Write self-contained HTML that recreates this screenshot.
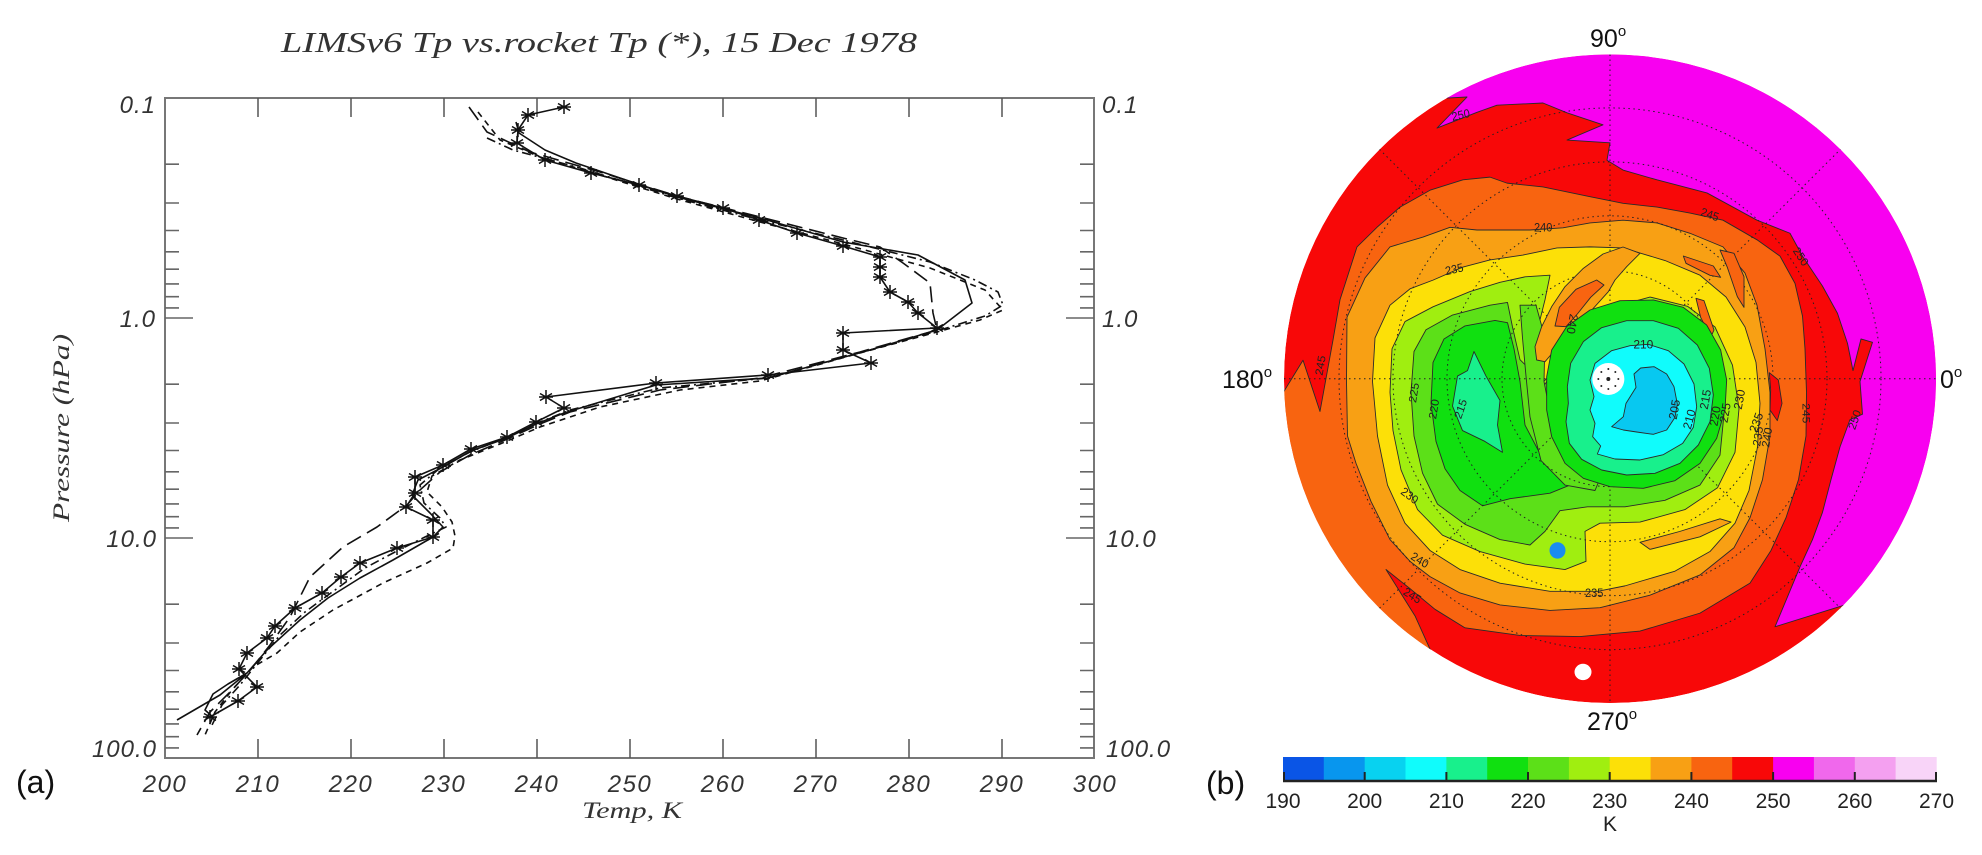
<!DOCTYPE html>
<html><head><meta charset="utf-8"><style>html,body{margin:0;padding:0;background:#fff;}svg{display:block}</style></head>
<body>
<svg width="1982" height="855" viewBox="0 0 1982 855" xmlns="http://www.w3.org/2000/svg">
<defs>
<g id="a" stroke="#111" stroke-width="1.5" fill="none"><path d="M0,-7V7M-6,-3.5L6,3.5M-6,3.5L6,-3.5M-7,0H7"/></g>
</defs>
<rect width="1982" height="855" fill="#fff"/>

<!-- ========== LEFT PANEL ========== -->
<text x="281" y="52" font-family="Liberation Serif, serif" font-style="italic" font-size="29" fill="#333" textLength="636" lengthAdjust="spacingAndGlyphs">LIMSv6 Tp vs.rocket Tp (*), 15 Dec 1978</text>

<rect x="165" y="98" width="929" height="660" fill="none" stroke="#777" stroke-width="2"/>
<path stroke="#555" stroke-width="1.5" fill="none" d="M258,98v19M351,98v19M444,98v19M537,98v19M630,98v19M723,98v19M816,98v19M909,98v19M1002,98v19
M258,758v-19M351,758v-19M444,758v-19M537,758v-19M630,758v-19M723,758v-19M816,758v-19M909,758v-19M1002,758v-19"/>
<path stroke="#666" stroke-width="1.6" fill="none" d="
M165,164.2h14M165,203h14M165,230.5h14M165,251.8h14M165,269.2h14M165,283.9h14M165,296.7h14M165,307.9h14M165,318h28
M165,384.2h14M165,423h14M165,450.5h14M165,471.8h14M165,489.2h14M165,503.9h14M165,516.7h14M165,527.9h14M165,538h28
M165,604.2h14M165,643h14M165,670.5h14M165,691.8h14M165,709.2h14M165,723.9h14M165,736.7h14M165,747.9h14
M1094,164.2h-14M1094,203h-14M1094,230.5h-14M1094,251.8h-14M1094,269.2h-14M1094,283.9h-14M1094,296.7h-14M1094,307.9h-14M1094,318h-28
M1094,384.2h-14M1094,423h-14M1094,450.5h-14M1094,471.8h-14M1094,489.2h-14M1094,503.9h-14M1094,516.7h-14M1094,527.9h-14M1094,538h-28
M1094,604.2h-14M1094,643h-14M1094,670.5h-14M1094,691.8h-14M1094,709.2h-14M1094,723.9h-14M1094,736.7h-14M1094,747.9h-14"/>

<g font-family="Liberation Sans, sans-serif" font-style="italic" font-size="24" fill="#333" letter-spacing="1">
<text x="156" y="113" text-anchor="end">0.1</text>
<text x="156" y="327" text-anchor="end">1.0</text>
<text x="157" y="547" text-anchor="end">10.0</text>
<text x="157" y="757" text-anchor="end">100.0</text>
<text x="1102" y="113">0.1</text>
<text x="1102" y="327">1.0</text>
<text x="1106" y="547">10.0</text>
<text x="1106" y="757">100.0</text>
</g>
<g font-family="Liberation Sans, sans-serif" font-style="italic" font-size="24" fill="#333" letter-spacing="1.5" text-anchor="middle">
<text x="165" y="792">200</text><text x="258" y="792">210</text><text x="351" y="792">220</text><text x="444" y="792">230</text><text x="537" y="792">240</text><text x="630" y="792">250</text><text x="723" y="792">260</text><text x="816" y="792">270</text><text x="909" y="792">280</text><text x="1002" y="792">290</text><text x="1095" y="792">300</text>
</g>
<text x="632" y="818" text-anchor="middle" font-family="Liberation Serif, serif" font-style="italic" font-size="23" fill="#333" textLength="100" lengthAdjust="spacingAndGlyphs">Temp, K</text>
<text transform="translate(69,428) rotate(-90)" text-anchor="middle" font-family="Liberation Serif, serif" font-style="italic" font-size="23" fill="#333" textLength="188" lengthAdjust="spacingAndGlyphs">Pressure (hPa)</text>
<text x="16" y="793" font-family="Liberation Sans, sans-serif" font-size="32" fill="#111">(a)</text>

<g fill="none" stroke="#111" stroke-width="1.6" stroke-linejoin="round">
<polyline points="516,122 519,133 545,150 576,163 620,178 677,197 760,218 843,242 918,255 965,280 972,303 937,330 870,350 768,378 656,385 564,413 536,424 507,438 471,451 443,467 418,480 412,495 430,513 443,527 433,537 393,560 360,578 328,598 300,620 267,650 247,673 220,695 177,720"/>
<polyline points="247,673 228,684 213,694 205,710 214,718"/>
<polyline stroke-dasharray="6,5" points="478,112 500,140 540,157 600,175 677,199 760,222 843,244 930,268 985,290 1003,310 980,320 937,332 860,353 760,381 680,390 600,407 540,427 500,444 460,460 432,476 427,492 442,507 452,522 455,536 453,548 427,563 383,583 333,610 300,632 277,653 253,667 232,690 215,712 205,735"/>
<polyline stroke-dasharray="9,4,2,4" points="487,138 513,150 580,168 677,198 760,220 843,240 930,262 975,280 998,292 1003,305 985,316 937,331 870,350 768,378 660,388 570,410 540,422 505,438 470,452 440,468 420,485 424,503 440,518 446,527 425,537 395,552 365,568 335,590 305,612 280,635 260,660 240,685 222,705 212,725"/>
<polyline stroke-dasharray="16,7" points="469,107 487,132 530,152 600,172 677,196 760,217 843,238 880,247 903,263 930,283 933,313 937,330 860,352 760,378 660,390 570,412 540,424 505,440 470,455 440,472 420,490 407,505 377,527 343,547 310,577 290,617 270,645 252,668 232,690 210,712 197,735"/>
<polyline points="564,107 528,115 518,130 517,143 545,160 591,173 639,185 677,196 723,208 759,220 797,233 843,246 880,257 880,267 880,277 890,292 908,302 918,313 937,328 843,333 843,350 871,363 768,375 656,383 546,397 564,408 536,422 507,437 471,449 443,465 415,477 415,493 406,507 433,520 433,537 397,548 360,563 341,577 322,593 295,608 275,626 267,638 247,653 239,669 257,687 238,701 210,717"/>
</g>
<g>
<use href="#a" x="564" y="107"/><use href="#a" x="528" y="115"/><use href="#a" x="518" y="130"/><use href="#a" x="517" y="143"/><use href="#a" x="545" y="160"/><use href="#a" x="591" y="173"/><use href="#a" x="639" y="185"/><use href="#a" x="677" y="196"/><use href="#a" x="723" y="208"/><use href="#a" x="759" y="220"/><use href="#a" x="797" y="233"/><use href="#a" x="843" y="246"/><use href="#a" x="880" y="257"/><use href="#a" x="880" y="267"/><use href="#a" x="880" y="277"/><use href="#a" x="890" y="292"/><use href="#a" x="908" y="302"/><use href="#a" x="918" y="313"/><use href="#a" x="937" y="328"/><use href="#a" x="843" y="333"/><use href="#a" x="843" y="350"/><use href="#a" x="871" y="363"/><use href="#a" x="768" y="375"/><use href="#a" x="656" y="383"/><use href="#a" x="546" y="397"/><use href="#a" x="564" y="408"/><use href="#a" x="536" y="422"/><use href="#a" x="507" y="437"/><use href="#a" x="471" y="449"/><use href="#a" x="443" y="465"/><use href="#a" x="415" y="477"/><use href="#a" x="415" y="493"/><use href="#a" x="406" y="507"/><use href="#a" x="433" y="520"/><use href="#a" x="433" y="537"/><use href="#a" x="397" y="548"/><use href="#a" x="360" y="563"/><use href="#a" x="341" y="577"/><use href="#a" x="322" y="593"/><use href="#a" x="295" y="608"/><use href="#a" x="275" y="626"/><use href="#a" x="267" y="638"/><use href="#a" x="247" y="653"/><use href="#a" x="239" y="669"/><use href="#a" x="257" y="687"/><use href="#a" x="238" y="701"/><use href="#a" x="210" y="717"/>
</g>

<!-- ========== RIGHT PANEL ========== -->
<clipPath id="cc"><ellipse cx="820" cy="695" rx="652" ry="595"/></clipPath>
<g transform="translate(1200,0) scale(0.5,0.545)">
<g clip-path="url(#cc)" stroke="#2a2a2a" stroke-width="0.9" stroke-linejoin="round">
<ellipse cx="820" cy="695" rx="652" ry="595" fill="#f80808" stroke="none"/>
<polygon vector-effect="non-scaling-stroke" fill="#f800f0" points="470,80 1600,80 1600,1110 1290,1110 1150,1150 1175,1095 1200,1040 1225,990 1245,940 1262,880 1280,820 1300,770 1325,760 1320,700 1345,628 1322,622 1306,680 1295,630 1275,575 1245,525 1205,470 1180,428 1114,404 1014,354 914,330 846,312 814,294 820,262 734,257 806,229 734,207 686,189 594,193 554,206 474,235 534,178 494,180"/>
<polygon vector-effect="non-scaling-stroke" fill="#f86410" points="100,720 168,718 206,661 240,755 266,624 280,550 314,453 354,417 400,380 460,349 526,330 580,325 614,336 686,343 780,361 846,373 914,380 980,391 1046,404 1114,440 1160,470 1190,520 1205,580 1210,640 1213,720 1212,800 1197,880 1172,950 1142,1010 1100,1070 1000,1125 880,1158 760,1168 640,1166 530,1152 470,1118 420,1080 372,1045 430,1130 462,1195 300,1250 100,1000"/>
<polygon vector-effect="non-scaling-stroke" fill="#f8a014" points="295,800 293,700 294,582 330,510 380,453 446,435 500,417 554,422 660,422 726,418 780,409 846,404 914,409 980,428 1046,453 1090,501 1114,560 1130,640 1140,720 1140,800 1125,880 1100,950 1068,1005 1000,1055 900,1092 800,1115 700,1120 600,1110 520,1088 460,1058 420,1030 380,990 342,920 312,850"/>
<polygon vector-effect="non-scaling-stroke" fill="#fce008" points="345,700 350,620 380,560 420,530 466,514 526,490 580,477 646,468 714,455 780,453 846,455 930,478 1000,505 1052,545 1090,600 1112,665 1120,740 1115,820 1098,900 1070,960 1020,1012 950,1048 850,1075 795,1085 700,1085 600,1070 520,1045 460,1010 410,960 375,890 355,800"/>
<polygon vector-effect="non-scaling-stroke" fill="#f8a014" points="880,995 960,975 1040,952 1062,958 1000,985 900,1008"/>
<polygon vector-effect="non-scaling-stroke" fill="#a0ee10" points="466,563 540,535 600,518 650,508 700,505 690,550 675,605 658,660 682,705 720,670 760,610 820,565 900,545 975,562 1030,600 1065,670 1078,750 1070,830 1035,895 970,935 880,958 800,960 770,975 772,1030 730,1045 650,1035 560,1012 485,982 435,935 402,862 386,790 380,720 384,640 410,590"/>
<polygon vector-effect="non-scaling-stroke" fill="#5ce018" points="422,720 428,645 452,605 505,578 580,560 615,555 625,600 640,660 690,705 730,650 780,600 830,572 900,556 965,575 1010,615 1038,680 1048,760 1040,835 1000,890 930,918 850,930 775,930 720,937 690,975 660,1000 600,990 530,962 475,925 445,868 428,800"/>
<polygon vector-effect="non-scaling-stroke" fill="#10e010" points="462,740 466,665 488,622 530,598 590,588 615,592 628,640 640,700 650,780 690,850 740,890 700,905 620,915 565,928 520,900 490,860 472,810"/>
<polygon vector-effect="non-scaling-stroke" fill="#5ce018" points="640,560 672,560 690,620 688,700 705,780 745,845 800,878 790,900 730,890 682,845 660,765 652,690 645,620"/>
<polygon vector-effect="non-scaling-stroke" fill="#18f08c" points="515,690 535,680 548,645 572,690 600,735 595,780 605,830 570,810 525,790 505,745"/>
</g>
<g clip-path="url(#cc)" fill="none" stroke="#222" stroke-width="1" stroke-dasharray="1.5 3.5">
<ellipse vector-effect="non-scaling-stroke" cx="820" cy="695" rx="108" ry="99"/>
<ellipse vector-effect="non-scaling-stroke" cx="820" cy="695" rx="216" ry="198"/>
<ellipse vector-effect="non-scaling-stroke" cx="820" cy="695" rx="326" ry="299"/>
<ellipse vector-effect="non-scaling-stroke" cx="820" cy="695" rx="434" ry="398"/>
<ellipse vector-effect="non-scaling-stroke" cx="820" cy="695" rx="542" ry="497"/>
<path vector-effect="non-scaling-stroke" d="M168,695H1472M820,100V1290M359,274L1281,1116M359,1116L1281,274"/>
</g>
<g font-family="Liberation Sans, sans-serif" font-size="22" fill="#222">
<text transform="translate(505,222) rotate(-12)">250</text>
<text transform="translate(1000,395) rotate(18)">245</text>
<text transform="translate(1185,460) rotate(55)">250</text>
<text x="668" y="425">240</text>
<text transform="translate(492,505) rotate(-12)">235</text>
<text transform="translate(245,690) rotate(-80)">245</text>
<text transform="translate(432,740) rotate(-80)">225</text>
<text transform="translate(472,770) rotate(-80)">220</text>
<text transform="translate(522,770) rotate(-70)">215</text>
<text transform="translate(1120,820) rotate(-80)">235</text>
<text transform="translate(1138,822) rotate(-80)">240</text>
<text transform="translate(1205,740) rotate(90)">245</text>
<text transform="translate(1310,790) rotate(-70)">250</text>
<text transform="translate(400,905) rotate(35)">230</text>
<text transform="translate(420,1025) rotate(30)">240</text>
<text transform="translate(405,1090) rotate(30)">245</text>
<text x="770" y="1095">235</text>
</g>
<ellipse cx="715" cy="1010" rx="16" ry="15" fill="#1a8cf0"/>
<ellipse cx="766" cy="1233" rx="17" ry="15" fill="#fff"/>
</g>

<g transform="translate(1480,230) scale(0.33333)" stroke="#2a2a2a" stroke-width="0.9" stroke-linejoin="round">
<polygon vector-effect="non-scaling-stroke" fill="#f8a014" points="429,51 480,70 440,110 405,150 385,185 340,235 300,280 260,320 225,360 195,395 170,390 165,350 185,290 215,230 255,170 310,115 369,72"/>
<polygon vector-effect="non-scaling-stroke" fill="#f86410" points="225,288 238,232 288,178 350,150 372,165 332,202 292,252 258,290"/>
<polygon vector-effect="non-scaling-stroke" fill="#f86410" points="610,78 700,108 722,142 690,136 618,100"/>
<polygon vector-effect="non-scaling-stroke" fill="#f86410" points="648,205 672,212 702,300 692,322 662,262"/>
<polygon vector-effect="non-scaling-stroke" fill="#f86410" points="720,60 762,70 792,140 792,232 772,200 742,112"/>
<polygon vector-effect="non-scaling-stroke" fill="#f80808" points="868,428 895,450 906,520 892,572 870,540 872,480"/>
<polygon vector-effect="non-scaling-stroke" fill="#10e010" points="200,440 215,360 260,290 330,240 420,212 520,210 610,232 680,285 722,360 740,450 735,540 710,625 660,700 585,752 490,775 390,770 310,745 255,700 215,620 200,540"/>
<polygon vector-effect="non-scaling-stroke" fill="#18f08c" points="262,470 272,400 310,335 365,293 440,272 520,272 595,295 652,345 688,415 700,495 690,575 655,645 600,700 525,730 440,735 365,720 305,688 268,640 258,575 265,520"/>
<polygon vector-effect="non-scaling-stroke" fill="#10fcfc" points="330,450 345,400 395,362 450,347 505,343 565,362 612,402 642,462 650,530 640,592 608,640 550,674 480,690 405,687 352,672 362,648 338,620 345,580 330,540 342,500"/>
<polygon vector-effect="non-scaling-stroke" fill="#08c8f0" points="395,590 430,560 438,520 468,472 462,432 482,414 522,410 560,432 582,470 592,522 585,562 560,600 520,613 470,606 430,600"/>
<g stroke="none">
<circle cx="385" cy="447" r="48" fill="#fff"/>
<g fill="#222"><circle cx="385" cy="447" r="6"/><circle cx="385" cy="417" r="3"/><circle cx="385" cy="477" r="3"/><circle cx="355" cy="447" r="3"/><circle cx="415" cy="447" r="3"/><circle cx="364" cy="426" r="3"/><circle cx="406" cy="426" r="3"/><circle cx="364" cy="468" r="3"/><circle cx="406" cy="468" r="3"/></g>
</g>
<g font-family="Liberation Sans, sans-serif" font-size="36" fill="#222" stroke="none">
<text x="460" y="355">210</text>
<text transform="translate(590,570) rotate(-80)">205</text>
<text transform="translate(632,600) rotate(-75)">210</text>
<text transform="translate(683,540) rotate(-80)">215</text>
<text transform="translate(712,590) rotate(-80)">220</text>
<text transform="translate(742,580) rotate(-80)">225</text>
<text transform="translate(785,540) rotate(-80)">230</text>
<text transform="translate(270,250) rotate(100)">240</text>
<text transform="translate(830,610) rotate(-70)">235</text>
</g>
</g>

<g font-family="Liberation Sans, sans-serif" font-size="25" fill="#111">
<text x="1590" y="47">90<tspan font-size="15" dy="-11">o</tspan></text>
<text x="1222" y="388">180<tspan font-size="15" dy="-11">o</tspan></text>
<text x="1940" y="388">0<tspan font-size="15" dy="-11">o</tspan></text>
<text x="1587" y="730">270<tspan font-size="15" dy="-11">o</tspan></text>
</g>

<!-- colorbar -->
<g>
<rect x="1283" y="757" width="41.3" height="23" fill="#0a55e6"/>
<rect x="1323.8" y="757" width="41.3" height="23" fill="#0896ee"/>
<rect x="1364.7" y="757" width="41.3" height="23" fill="#08d2f0"/>
<rect x="1405.5" y="757" width="41.3" height="23" fill="#10fcfc"/>
<rect x="1446.4" y="757" width="41.3" height="23" fill="#18f08c"/>
<rect x="1487.2" y="757" width="41.3" height="23" fill="#10e010"/>
<rect x="1528" y="757" width="41.3" height="23" fill="#5ce018"/>
<rect x="1568.9" y="757" width="41.3" height="23" fill="#a0ee10"/>
<rect x="1609.7" y="757" width="41.3" height="23" fill="#fce008"/>
<rect x="1650.6" y="757" width="41.3" height="23" fill="#f8a014"/>
<rect x="1691.4" y="757" width="41.3" height="23" fill="#f86410"/>
<rect x="1732.2" y="757" width="41.3" height="23" fill="#f80808"/>
<rect x="1773.1" y="757" width="41.3" height="23" fill="#f800f0"/>
<rect x="1813.9" y="757" width="41.3" height="23" fill="#f068ec"/>
<rect x="1854.8" y="757" width="41.3" height="23" fill="#f4a0f0"/>
<rect x="1895.6" y="757" width="41.1" height="23" fill="#f8d4f8"/>
<path d="M1283,781H1937" stroke="#222" stroke-width="2.5"/>
<path d="M1284,772v9M1364.7,772v9M1446.4,772v9M1528,772v9M1609.7,772v9M1691.4,772v9M1773.1,772v9M1854.8,772v9M1936,772v9" stroke="#222" stroke-width="2"/>
</g>
<g font-family="Liberation Sans, sans-serif" font-size="21" fill="#222" text-anchor="middle">
<text x="1283" y="808">190</text><text x="1364.7" y="808">200</text><text x="1446.4" y="808">210</text><text x="1528" y="808">220</text><text x="1609.7" y="808">230</text><text x="1691.4" y="808">240</text><text x="1773.1" y="808">250</text><text x="1854.8" y="808">260</text><text x="1936.5" y="808">270</text>
<text x="1610" y="831">K</text>
</g>
<text x="1206" y="794" font-family="Liberation Sans, sans-serif" font-size="32" fill="#111">(b)</text>
</svg>
</body></html>
